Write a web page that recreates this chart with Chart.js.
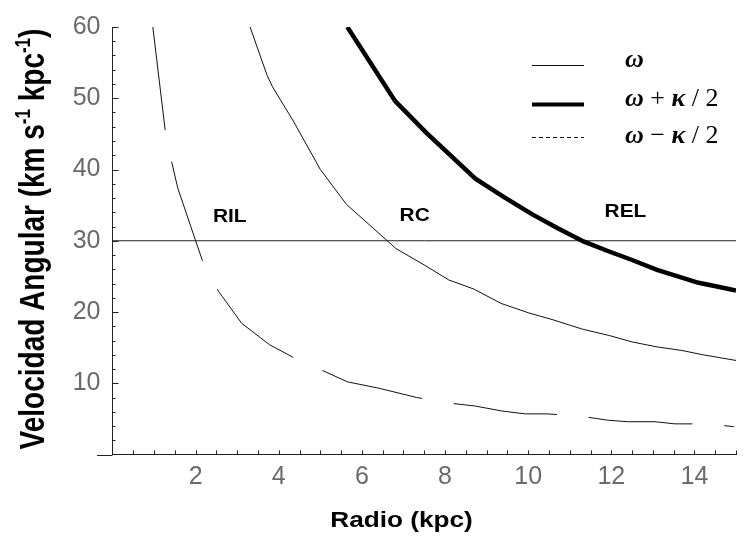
<!DOCTYPE html>
<html lang="es">
<head>
<meta charset="UTF-8">
<title>Velocidad angular vs radio</title>
<script src="https://cdn.jsdelivr.net/npm/chart.js"></script>
<style>
  html, body { margin: 0; padding: 0; background: #fff; }
  #wrap { width: 745px; height: 540px; }
</style>
</head>
<body>
<div id="wrap"><canvas id="chart" width="745" height="540"></canvas></div>
<script>
// curvas: radio (kpc) -> velocidad angular (km s-1 kpc-1)
const omegaR = [3.31, 3.72, 3.85, 4.35, 5.0, 5.63, 6.82, 7.5, 8.09, 8.7, 9.35, 10.0, 10.6, 11.3, 11.95, 12.5, 13.1, 13.7, 14.2, 15.0];
const omega  = [60, 53.2, 51.6, 46.8, 40.0, 35.1, 28.9, 26.6, 24.5, 23.2, 21.2, 19.9, 18.9, 17.6, 16.7, 15.8, 15.1, 14.6, 14.0, 13.2];

const plusR = [5.65, 6.8, 7.54, 8.73, 9.4, 10.1, 10.7, 11.33, 11.9, 12.5, 13.1, 13.6, 14.1, 14.6, 15.0];
const plus  = [60, 49.6, 45.2, 38.7, 36.2, 33.7, 31.8, 29.9, 28.6, 27.3, 25.9, 25.0, 24.1, 23.5, 23.0];

const minusR = [0.97, 1.27, 1.43, 1.57, 2.0, 2.17, 2.55, 3.11, 3.78, 4.36, 5.05, 5.65, 6.41, 7.32, 8.12, 8.73, 9.37, 9.93, 10.45, 11.25, 11.93, 12.41, 13.05, 13.53, 14.33, 14.95];
const minus  = [60, 45.4, 40.9, 37.4, 30.0, 27.1, 22.9, 18.4, 15.4, 13.6, 11.8, 10.2, 9.3, 8.0, 7.2, 6.8, 6.1, 5.7, 5.7, 5.4, 4.8, 4.6, 4.6, 4.3, 4.3, 3.9];

// linea horizontal de referencia
const refR = [0, 15];
const refV = [30, 30];

const seriesLabels = ['ω', 'ω + κ / 2', 'ω − κ / 2'];

const xTicks = [2, 4, 6, 8, 10, 12, 14];
const yTicks = [10, 20, 30, 40, 50, 60];

const regionNames = ['RIL', 'RC', 'REL'];
const regionR = [2.82, 7.27, 12.34];
const regionV = [33.4, 33.5, 34.1];

const xTitle = 'Radio (kpc)';
const yTitleParts = [['Velocidad Angular (km s', 0], ['-1', 1], [' kpc', 0], ['-1', 1], [')', 0]];

const pts = (xs, ys) => xs.map((x, i) => ({ x: x, y: ys[i] }));

const tickFont = { family: "'Liberation Sans Narrow', 'Liberation Sans', sans-serif", size: 25 };
const tickColor = '#6a6a6a';

const decor = {
  id: 'decor',
  afterDraw(chart) {
    const ctx = chart.ctx;
    const xs = chart.scales.x, ys = chart.scales.y;
    const ca = chart.chartArea;
    ctx.save();

    // tramo del eje x a la izquierda del eje y
    ctx.strokeStyle = '#222';
    ctx.lineWidth = 1;
    ctx.beginPath();
    ctx.moveTo(97, Math.round(ca.bottom) + 0.5);
    ctx.lineTo(ca.left, Math.round(ca.bottom) + 0.5);
    ctx.stroke();

    // marcas hacia dentro
    ctx.beginPath();
    for (let v = 0.5; v <= 15.001; v += 0.5) {
      const px = Math.round(xs.getPixelForValue(v)) + 0.5;
      ctx.moveTo(px, ca.bottom);
      ctx.lineTo(px, ca.bottom - 4);
    }
    for (let v = 2; v <= 60.001; v += 2) {
      const py = Math.round(ys.getPixelForValue(v)) + 0.5;
      const len = (Math.round(v) % 10 === 0) ? 6 : 3;
      ctx.moveTo(ca.left, py);
      ctx.lineTo(ca.left + len, py);
    }
    ctx.stroke();

    // nombres de regiones
    ctx.fillStyle = '#000';
    ctx.font = "bold 19px 'Liberation Sans', Arial, sans-serif";
    ctx.textAlign = 'center';
    ctx.textBaseline = 'middle';
    regionNames.forEach((n, i) => {
      ctx.save();
      ctx.translate(xs.getPixelForValue(regionR[i]), ys.getPixelForValue(regionV[i]));
      ctx.scale(1.1, 1);
      ctx.fillText(n, 0, 0);
      ctx.restore();
    });

    // leyenda
    const lineY = [65, 104, 137];
    const textY = [67, 106, 143];
    const dashes = [[], [], [4, 3]];
    chart.data.datasets.slice(0, 3).forEach((ds, i) => {
      ctx.strokeStyle = ds.borderColor;
      ctx.lineWidth = i === 1 ? 4 : 1;
      ctx.setLineDash(dashes[i]);
      ctx.beginPath();
      ctx.moveTo(532, lineY[i] + 0.5);
      ctx.lineTo(584, lineY[i] + 0.5);
      ctx.stroke();
      ctx.setLineDash([]);
      drawMixed(ctx, ds.label, 625, textY[i]);
    });

    // titulo eje x
    ctx.fillStyle = '#000';
    ctx.textAlign = 'center';
    ctx.textBaseline = 'alphabetic';
    ctx.save();
    ctx.translate(401.5, 527);
    ctx.scale(1.19, 1);
    ctx.font = "bold 22px 'Liberation Sans', Arial, sans-serif";
    ctx.fillText(xTitle, 0, 0);
    ctx.restore();

    // titulo eje y con superindices
    const big = "bold 28px 'Liberation Sans', Arial, sans-serif";
    const small = "bold 17px 'Liberation Sans', Arial, sans-serif";
    ctx.save();
    ctx.translate(43.5, 239);
    ctx.rotate(-Math.PI / 2);
    ctx.scale(1, 1.25);
    let total = 0;
    yTitleParts.forEach(p => { ctx.font = p[1] ? small : big; total += ctx.measureText(p[0]).width; });
    let x = -total / 2;
    ctx.textAlign = 'left';
    yTitleParts.forEach(p => {
      ctx.font = p[1] ? small : big;
      ctx.fillText(p[0], x, p[1] ? -11 : 0);
      x += ctx.measureText(p[0]).width;
    });
    ctx.restore();

    ctx.restore();
  }
};

function drawMixed(ctx, text, x, y) {
  ctx.fillStyle = '#000';
  ctx.textAlign = 'left';
  ctx.textBaseline = 'alphabetic';
  const parts = text.match(/[\u03b1-\u03c9]+|[^\u03b1-\u03c9]+/g);
  parts.forEach(p => {
    const greek = /[\u03b1-\u03c9]/.test(p);
    ctx.font = (greek ? 'italic bold ' : '') + "26px 'Liberation Serif', 'Times New Roman', serif";
    ctx.fillText(p, x, y);
    x += ctx.measureText(p).width;
  });
}

new Chart(document.getElementById('chart'), {
  type: 'line',
  data: {
    datasets: [
      { label: seriesLabels[0], data: pts(omegaR, omega), borderColor: '#111', borderWidth: 1, pointRadius: 0, tension: 0, clip: 0 },
      { label: seriesLabels[1], data: pts(plusR, plus), borderColor: '#000', borderWidth: 4.5, pointRadius: 0, tension: 0, clip: 0 },
      { label: seriesLabels[2], data: pts(minusR, minus), borderColor: '#111', borderWidth: 1, borderDash: [104, 32], pointRadius: 0, tension: 0, clip: 0 },
      { label: 'ref', data: pts(refR, refV), borderColor: '#222', borderWidth: 1, pointRadius: 0, tension: 0, clip: 0 }
    ]
  },
  options: {
    responsive: false,
    devicePixelRatio: 1,
    animation: false,
    layout: { padding: { top: 19, right: 9, bottom: 0, left: 0 } },
    plugins: { legend: { display: false }, tooltip: { enabled: false } },
    scales: {
      x: {
        type: 'linear', min: 0, max: 15,
        afterBuildTicks: s => { s.ticks = xTicks.map(v => ({ value: v })); },
        afterFit: s => { s.height = 85.5; },
        grid: { display: false, drawTicks: false },
        border: { display: true, color: '#222', width: 1 },
        ticks: { font: tickFont, color: tickColor, padding: 8, maxRotation: 0, autoSkip: false }
      },
      y: {
        type: 'linear', min: 0, max: 60,
        afterBuildTicks: s => { s.ticks = yTicks.map(v => ({ value: v })); },
        afterFit: s => { s.width = 112.5; },
        grid: { display: false, drawTicks: false },
        border: { display: true, color: '#222', width: 1 },
        ticks: { font: tickFont, color: tickColor, padding: 12, autoSkip: false }
      }
    }
  },
  plugins: [decor]
});
</script>
</body>
</html>
